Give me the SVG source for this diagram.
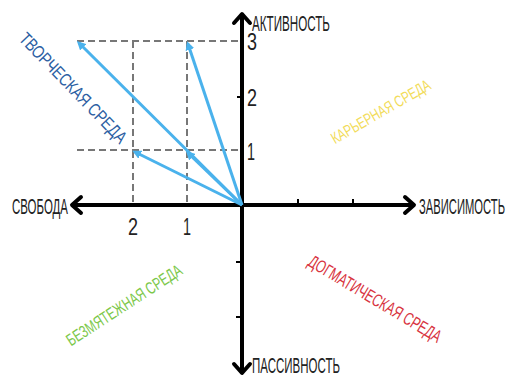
<svg xmlns="http://www.w3.org/2000/svg" width="512" height="379" viewBox="0 0 512 379">
<defs>
<style>
.ax{stroke:#000;stroke-width:4;fill:none;stroke-linecap:round;stroke-linejoin:round}
.tk{stroke:#000;stroke-width:2}
.dash{stroke:#777;stroke-width:2;stroke-dasharray:7 4;fill:none}
.vec{stroke:#4ab2ec;stroke-width:3;fill:none}
.lbl{font-family:"Liberation Sans",Arial,sans-serif;fill:#222}
.num{font-family:"Liberation Sans",Arial,sans-serif;fill:#222;font-size:23px}
.zone{font-family:"Liberation Sans",Arial,sans-serif}
</style>
<marker id="ah" markerWidth="9" markerHeight="9" refX="6" refY="4.5" orient="auto" markerUnits="userSpaceOnUse" viewBox="0 0 9 9">
<path d="M0,0 L9,4.5 L0,9 Z" fill="#4ab2ec"/>
</marker>
</defs>
<g id="grid">
<line class="dash" x1="77" y1="41" x2="242" y2="41"/>
<line class="dash" x1="77" y1="150" x2="242" y2="150"/>
<line class="dash" x1="133" y1="41" x2="133" y2="205"/>
<line class="dash" x1="187" y1="41" x2="187" y2="205"/>
</g>
<g id="axes">
<line class="ax" x1="242" y1="15" x2="242" y2="372"/>
<line class="ax" x1="73" y1="205" x2="413" y2="205"/>
<polyline class="ax" points="234,23 242,14 250,23"/>
<polyline class="ax" points="234,364 242,373 250,364"/>
<polyline class="ax" points="81,197 72,205 81,213"/>
<polyline class="ax" points="405,197 414,205 405,213"/>
<line class="tk" x1="237" y1="97" x2="242" y2="97"/>
<line class="tk" x1="236" y1="262" x2="242" y2="262"/>
<line class="tk" x1="236" y1="317" x2="242" y2="317"/>
<line class="tk" x1="298" y1="199" x2="298" y2="205"/>
<line class="tk" x1="353" y1="199" x2="353" y2="205"/>
</g>
<g id="connectors">
<line class="vec" x1="242" y1="205" x2="79" y2="43" marker-end="url(#ah)"/>
<line class="vec" x1="242" y1="205" x2="188" y2="44" marker-end="url(#ah)"/>
<line class="vec" x1="242" y1="205" x2="135" y2="152" marker-end="url(#ah)"/>
<line class="vec" x1="242" y1="205" x2="188" y2="153" marker-end="url(#ah)"/>
</g>
<g id="axis-labels">
<text class="lbl" x="252" y="31" font-size="22" textLength="78" lengthAdjust="spacingAndGlyphs">АКТИВНОСТЬ</text>
<text class="lbl" x="419" y="214" font-size="22" textLength="86" lengthAdjust="spacingAndGlyphs">ЗАВИСИМОСТЬ</text>
<text class="lbl" x="12" y="214" font-size="22" textLength="56" lengthAdjust="spacingAndGlyphs">СВОБОДА</text>
<text class="lbl" x="252" y="373" font-size="22" textLength="88" lengthAdjust="spacingAndGlyphs">ПАССИВНОСТЬ</text>
</g>
<g id="numbers">
<text class="num" x="247" y="50" textLength="10" lengthAdjust="spacingAndGlyphs">3</text>
<text class="num" x="247" y="106" textLength="10" lengthAdjust="spacingAndGlyphs">2</text>
<text class="num" x="247" y="160" textLength="8" lengthAdjust="spacingAndGlyphs">1</text>
<text class="num" x="128" y="235" textLength="10" lengthAdjust="spacingAndGlyphs">2</text>
<text class="num" x="183" y="235" textLength="8" lengthAdjust="spacingAndGlyphs">1</text>
</g>
<g id="zone-creative">
<text class="zone" fill="#2d5fa3" font-size="18" text-anchor="middle" transform="translate(73,88) rotate(46)" dy="6" textLength="146" lengthAdjust="spacingAndGlyphs">ТВОРЧЕСКАЯ СРЕДА</text>
</g>
<g id="zone-career">
<text class="zone" fill="#f2dc5a" font-size="16" text-anchor="middle" transform="translate(381,112) rotate(-30)" dy="5" textLength="112" lengthAdjust="spacingAndGlyphs">КАРЬЕРНАЯ СРЕДА</text>
</g>
<g id="zone-serene">
<text class="zone" fill="#7cc84a" font-size="17" text-anchor="middle" transform="translate(124,305) rotate(-33)" dy="6" textLength="134" lengthAdjust="spacingAndGlyphs">БЕЗМЯТЕЖНАЯ СРЕДА</text>
</g>
<g id="zone-dogmatic">
<text class="zone" fill="#d83340" font-size="18" text-anchor="middle" transform="translate(375,299) rotate(31)" dy="6" textLength="152" lengthAdjust="spacingAndGlyphs">ДОГМАТИЧЕСКАЯ СРЕДА</text>
</g>
</svg>
